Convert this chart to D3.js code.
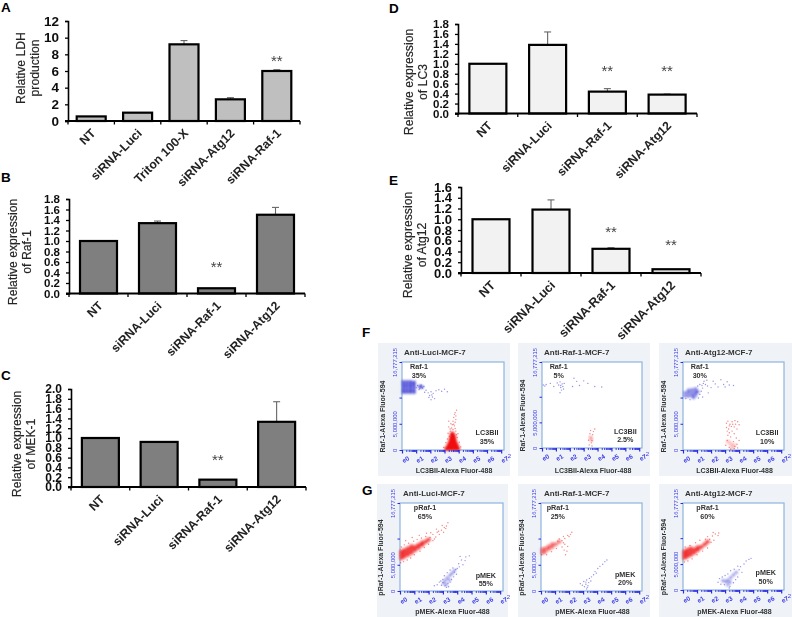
<!DOCTYPE html>
<html>
<head>
<meta charset="utf-8">
<script src="https://cdn.jsdelivr.net/npm/d3@7"></script>
<style>
body { margin: 0; background: #fff; }
text { font-family: "Liberation Sans", Arial, sans-serif; }
</style>
</head>
<body>
<div id="fig"></div>
<script>
// bar panels: categories and values
var catsA = ['NT', 'siRNA-Luci', 'Triton 100-X', 'siRNA-Atg12', 'siRNA-Raf-1'];
var catsRaf = ['NT', 'siRNA-Luci', 'siRNA-Raf-1', 'siRNA-Atg12'];
var valsA = [0.55, 1.0, 9.2, 2.6, 6.0];
var errA = [0, 0, 9.65, 2.8, 6.15];
var starsA = [null, null, null, null, 7.2];
var valsB = [1.0, 1.34, 0.1, 1.5];
var errB = [0, 1.38, 0, 1.64];
var starsB = [null, null, 0.5, null];
var valsC = [1.0, 0.92, 0.15, 1.33];
var errC = [0, 0, 0, 1.74];
var starsC = [null, null, 0.55, null];
var valsD = [1.0, 1.38, 0.44, 0.38];
var errD = [0, 1.64, 0.5, 0.39];
var starsD = [null, null, 0.85, 0.85];
var valsE = [1.0, 1.18, 0.45, 0.07];
var errE = [0, 1.36, 0.47, 0];
var starsE = [null, null, 0.77, 0.52];
var ticks12 = [0, 2, 4, 6, 8, 10, 12];
var ticks18 = [0, 0.2, 0.4, 0.6, 0.8, 1.0, 1.2, 1.4, 1.6, 1.8];
var ticks20 = [0, 0.2, 0.4, 0.6, 0.8, 1.0, 1.2, 1.4, 1.6, 1.8, 2.0];
var ticks16 = [0, 0.2, 0.4, 0.6, 0.8, 1.0, 1.2, 1.4, 1.6];

// flow panels: [log decade, millions], dense = thick patches, sparse = single events
var f1BlueDense = [[0.1,11],[0.35,11],[0.6,11],[0.85,11],[0.1,11.5],[0.35,11.5],[0.6,11.5],[0.85,11.5],[0.1,12],[0.35,12],[0.6,12],[0.85,12],[0.1,12.5],[0.35,12.5],[0.6,12.5],[0.85,12.5],[0.1,13],[0.35,13],[0.6,13],[0.85,12.9],[1.25,12.1],[1.4,12.0]];
var f1BlueSparse = [[1.1,12.3],[1.25,11.7],[1.35,12.4],[1.45,11.8],[1.55,12.1],[1.2,11.5],[1.7,11.4],[1.85,10.9],[1.95,10.4],[2.05,11.1],[2.15,10.1],[2.2,10.8],[2.3,9.8],[2.05,9.6],[2.4,11.3],[2.6,11.5],[2.8,11.2],[3.0,11.6],[3.2,11.1],[1.0,11.9],[1.6,11.0],[1.9,10.0],[2.1,10.5]];
var f1RedDense = [[3.15,0.3],[3.35,0.3],[3.55,0.3],[3.75,0.3],[3.95,0.3],[3.3,0.9],[3.5,0.9],[3.7,0.9],[3.85,0.9],[3.4,1.5],[3.55,1.5],[3.75,1.5],[3.45,2.1],[3.6,2.1],[3.7,2.1],[3.5,2.7],[3.65,2.7],[3.55,3.1]];
var f1RedSparse = [[3.1,1.4],[3.2,2.1],[3.25,3.2],[3.4,3.6],[3.5,4.2],[3.3,4.4],[3.6,3.9],[3.7,4.6],[3.45,5.0],[3.6,5.5],[3.75,5.3],[3.8,3.6],[3.9,2.4],[4.05,1.5],[3.65,6.2],[3.8,6.5],[3.75,7.1],[3.85,7.6],[3.55,4.8],[3.3,5.5],[2.95,0.5],[4.15,0.6],[3.95,3.1],[3.35,2.6],[3.85,2.9],[3.4,4.0],[3.75,4.1],[3.65,4.9],[3.8,5.8],[3.7,6.8]];
var f2BlueDense = [];
var f2BlueSparse = [[0.1,12.3],[0.2,12.1],[0.3,12.4],[1.1,12.7],[1.2,12.3],[1.3,12.9],[1.35,11.8],[1.45,12.5],[1.4,11.3],[1.5,12.0],[1.55,11.5],[1.35,12.2],[1.6,12.6],[1.3,10.8],[2.3,13.6],[2.5,13.0],[2.7,12.2],[3.0,13.1],[3.3,12.6],[3.8,12.0],[4.3,11.9],[2.2,12.0],[0.6,12.6],[0.85,12.0]];
var f2RedDense = [[3.5,2.1],[3.55,1.6]];
var f2RedSparse = [[3.35,1.5],[3.45,2.8],[3.6,1.4],[3.65,2.6],[3.5,3.4],[3.7,3.2],[3.8,3.7],[3.4,0.6],[3.6,0.4],[3.55,1.0]];
var f3BlueDense = [[0.15,10.3],[0.4,10.3],[0.65,10.4],[0.9,10.5],[0.15,10.9],[0.4,10.9],[0.65,10.9],[0.9,11],[1.05,11.1],[0.4,11.4],[0.65,11.5],[0.9,11.6],[0.75,10.0]];
var f3BlueSparse = [[1.2,10.6],[1.3,11.2],[1.4,10.1],[1.1,9.9],[0.5,9.6],[0.2,9.8],[1.35,12.3],[1.45,12.7],[1.6,12.5],[1.5,13.1],[1.7,13.3],[1.75,12.2],[1.4,11.8],[1.2,12.5],[2.0,11.9],[2.3,12.6],[2.5,12.0],[2.7,13.4],[2.9,12.5],[3.0,12.0],[3.15,13.0],[3.3,12.4],[3.6,12.3],[1.8,10.9],[1.05,12.2],[2.15,13.1]];
var f3RedDense = [[3.2,1.6],[3.4,1.2],[3.5,0.5],[3.65,0.9]];
var f3RedSparse = [[3.1,5.1],[3.2,5.5],[3.35,4.9],[3.5,5.4],[3.7,5.6],[3.9,5.4],[4.0,4.8],[3.1,4.3],[3.25,4.0],[3.45,4.5],[3.65,4.4],[3.85,4.0],[3.3,3.3],[3.5,3.6],[3.2,2.8],[3.4,2.5],[3.65,3.1],[3.8,2.3],[3.15,1.8],[3.6,1.6],[3.85,1.1],[3.7,0.7],[3.3,0.5],[3.9,0.4],[3.65,0.3],[3.4,0.2],[3.05,0.9],[4.0,1.8],[3.3,4.6],[3.55,4.9],[3.75,4.9],[3.15,3.6]];

var g1RedDense = [[0.1,6.3],[0.1,6.9],[0.1,7.5],[0.3,6.6],[0.3,7.2],[0.3,7.8],[0.55,6.9],[0.55,7.5],[0.55,8.1],[0.8,7.3],[0.8,7.9],[0.8,8.5],[1.05,7.8],[1.05,8.4],[1.3,8.3],[1.3,8.8],[1.55,8.8],[1.55,9.2],[1.8,9.4],[2.0,9.8]];
var g1RedSparse = [[0.05,5.4],[0.25,5.6],[0.5,5.9],[0.75,6.3],[0.1,8.4],[0.3,8.8],[0.6,9.1],[0.95,9.5],[1.2,9.8],[1.0,6.9],[1.4,7.6],[1.7,8.3],[2.0,8.9],[1.5,10.1],[1.8,10.4],[2.1,10.2],[2.3,9.6],[2.3,10.8],[2.5,10.3],[2.6,11.2],[2.75,10.8],[2.9,11.6],[3.05,11.2],[3.1,12.1],[3.25,12.4],[3.35,13.0],[2.95,12.5],[2.55,11.8],[2.15,11.1],[1.85,11.0],[1.35,10.6],[0.85,10.2],[0.4,9.6],[2.4,9.9],[2.7,11.4],[3.2,11.9]];
var g1BlueDense = [[3.05,1.5],[3.15,2.0],[3.25,1.2],[3.3,2.5],[3.45,2.1],[3.5,3.0],[3.65,3.4],[3.8,3.9]];
var g1BlueSparse = [[2.4,1.0],[2.6,1.2],[2.75,1.7],[2.9,1.1],[3.0,2.2],[3.15,1.0],[3.25,0.7],[3.1,2.9],[3.3,3.5],[3.5,1.7],[3.6,2.2],[3.75,2.7],[3.8,3.6],[3.9,4.1],[3.5,4.0],[3.7,4.4],[4.0,4.3],[4.1,5.2],[4.3,5.9],[4.6,6.5],[4.2,6.6],[4.85,6.7],[3.4,0.8],[3.95,3.2],[2.85,1.9],[3.0,1.6],[3.35,1.5],[4.15,4.6],[4.4,5.0],[4.55,5.8]];
var g2RedDense = [[0.1,7.3],[0.1,7.9],[0.3,7.5],[0.3,8.1],[0.55,8.0],[0.55,8.5],[0.8,8.4],[0.8,8.9],[1.05,8.9],[1.3,9.4]];
var g2RedSparse = [[0.05,6.9],[0.4,6.9],[0.75,7.5],[1.1,8.1],[1.3,9.9],[1.5,9.6],[1.7,10.0],[1.9,10.6],[2.1,10.8],[2.2,11.2],[1.5,8.4],[1.65,7.8],[1.75,6.9],[1.85,7.6],[1.9,8.5],[1.6,9.2],[2.0,10.4],[1.2,9.5],[1.7,8.9],[1.6,10.4]];
var g2BlueDense = [];
var g2BlueSparse = [[2.8,1.4],[2.95,1.1],[3.05,1.8],[3.1,0.8],[3.2,1.3],[3.25,2.1],[3.3,0.7],[3.35,1.0],[3.4,1.6],[3.45,2.4],[3.55,1.9],[3.6,2.7],[3.75,3.1],[3.85,3.7],[3.95,3.4],[4.05,4.3],[4.2,4.7],[4.4,5.1],[4.55,5.6],[4.7,5.9],[3.25,0.4],[3.2,1.7]];
var g3RedDense = [[0.1,6.2],[0.1,6.8],[0.1,7.4],[0.3,6.5],[0.3,7.1],[0.3,7.7],[0.55,6.8],[0.55,7.4],[0.55,8.0],[0.8,7.2],[0.8,7.8],[1.05,7.7],[1.05,8.2],[1.3,8.3],[1.55,8.8],[1.75,9.3]];
var g3RedSparse = [[0.1,5.4],[0.35,5.6],[0.65,6.0],[1.0,6.8],[1.4,7.5],[1.75,8.1],[1.9,9.8],[2.1,10.4],[2.0,9.2],[2.2,9.6],[2.3,10.8],[2.5,10.5],[2.55,11.0],[1.6,9.8],[1.2,9.6],[0.9,9.1],[2.15,11.1],[0.5,8.6],[0.15,8.3],[1.75,10.3]];
var g3BlueDense = [[3.05,1.6],[3.2,1.9],[3.4,2.4],[3.6,2.9],[3.2,1.0],[3.8,3.4],[2.85,1.8],[3.35,1.5]];
var g3BlueSparse = [[2.5,1.5],[2.6,2.2],[2.8,2.5],[2.7,1.1],[2.95,1.0],[3.0,2.8],[3.2,3.1],[3.35,0.7],[3.3,0.4],[3.6,1.4],[3.75,2.0],[3.4,3.7],[3.65,4.0],[3.9,2.5],[4.0,3.9],[4.1,4.5],[4.2,3.4],[4.35,5.0],[4.5,5.6],[4.7,5.9],[4.85,6.1],[3.9,4.6]];

var flowTicksX = [0, 1, 2, 3, 4, 5, 6, 7];
var flowTicksY = [0, 5, 10, 16.777];
var minorSteps = [2, 3, 4, 5, 6, 7, 8, 9];

var svg = d3.select('#fig').append('svg')
    .attr('width', 792)
    .attr('height', 617)
    .style('display', 'block');

var defs = svg.append('defs');
defs.append('filter').attr('id', 'soft').append('feGaussianBlur').attr('stdDeviation', 0.4);
defs.append('filter').attr('id', 'softer').append('feGaussianBlur').attr('stdDeviation', 0.8);

// panel letters
var letters = [['A', 1, 12], ['B', 1, 182], ['C', 1, 380], ['D', 389, 13], ['E', 389, 185], ['F', 362, 337], ['G', 362, 495]];
svg.selectAll('.letter').data(letters).enter().append('text')
    .attr('class', 'letter')
    .attr('x', d => d[1])
    .attr('y', d => d[2])
    .attr('font-size', 13.5)
    .attr('font-weight', 'bold')
    .text(d => d[0]);

function barPanel(o) {
    var x = d3.scaleBand().domain(o.cats).range([o.x0, o.x1]);
    var y = d3.scaleLinear().domain([0, o.max]).range([o.y0, o.y1]);
    var bw = o.barW;
    var g = svg.append('g').attr('filter', 'url(#soft)');

    var rows = o.cats.map((c, i) => ({c: c, v: o.vals[i], e: o.err[i], s: o.stars[i]}));

    // error bars go behind the bar
    rows.filter(d => d.e > 0).forEach(d => {
        var cx = x(d.c) + x.bandwidth() / 2;
        g.append('line').attr('x1', cx).attr('x2', cx).attr('y1', y(d.v)).attr('y2', y(d.e))
            .attr('stroke', '#666').attr('stroke-width', 1.1);
        g.append('line').attr('x1', cx - 3.5).attr('x2', cx + 3.5).attr('y1', y(d.e)).attr('y2', y(d.e))
            .attr('stroke', '#666').attr('stroke-width', 1.1);
    });

    g.selectAll('.bar').data(rows).enter().append('rect')
        .attr('class', 'bar')
        .attr('x', d => x(d.c) + (x.bandwidth() - bw) / 2)
        .attr('y', d => y(d.v))
        .attr('width', bw)
        .attr('height', d => y(0) - y(d.v))
        .attr('fill', o.fill)
        .attr('stroke', '#000')
        .attr('stroke-width', 2.2);

    g.selectAll('.star').data(rows.filter(d => d.s !== null)).enter().append('text')
        .attr('x', d => x(d.c) + x.bandwidth() / 2)
        .attr('y', d => y(d.s) + 5)
        .attr('text-anchor', 'middle')
        .attr('font-size', 15)
        .attr('fill', '#444')
        .text('**');

    var yAxis = d3.axisLeft(y).tickValues(o.ticks).tickSize(3).tickPadding(6)
        .tickFormat(o.max === 12 ? d3.format('d') : d3.format('.1f'));
    var ya = g.append('g').attr('transform', `translate(${o.x0},0)`).call(yAxis);
    ya.select('.domain').attr('stroke', '#000').attr('stroke-width', 1.6);
    ya.selectAll('line').attr('stroke', '#000').attr('stroke-width', 1.3);
    ya.selectAll('text').attr('font-size', o.tickSize).attr('font-weight', 'bold').attr('fill', '#111')
        .style('font-family', '"Liberation Sans"');

    // x axis has ticks between the categories
    g.append('line').attr('x1', o.x0 - 3).attr('x2', o.x1).attr('y1', o.y0).attr('y2', o.y0)
        .attr('stroke', '#000').attr('stroke-width', 2);
    d3.range(o.cats.length + 1).forEach(i => {
        var tx = o.x0 + i * x.step();
        g.append('line').attr('x1', tx).attr('x2', tx).attr('y1', o.y0).attr('y2', o.y0 + 3.5)
            .attr('stroke', '#000').attr('stroke-width', 1.3);
    });

    g.selectAll('.cat').data(o.cats).enter().append('text')
        .attr('transform', c => `translate(${x(c) + x.bandwidth() / 2 + 5},${o.y0 + 13}) rotate(-45)`)
        .attr('text-anchor', 'end')
        .attr('font-size', o.catSize)
        .attr('font-weight', 'bold')
        .attr('fill', '#222')
        .text(c => c);

    var ty = g.append('text')
        .attr('transform', `translate(${o.titleX},${o.titleY}) rotate(-90)`)
        .attr('text-anchor', 'middle')
        .attr('font-size', o.titleSize)
        .attr('stroke', '#333').attr('stroke-width', 0.2)
        .attr('fill', '#222');
    ty.append('tspan').attr('x', 0).attr('dy', 0).text(o.title[0]);
    ty.append('tspan').attr('x', 0).attr('dy', o.titleSize * 1.15).text(o.title[1]);
}

barPanel({cats: catsA, vals: valsA, err: errA, stars: starsA, max: 12, ticks: ticks12, fill: '#bfbfbf',
    x0: 68, x1: 300, y0: 121, y1: 21, barW: 29, tickSize: 13.5, catSize: 12.3, titleSize: 12.2,
    title: ['Relative LDH', 'production'], titleX: 25, titleY: 68});
barPanel({cats: catsRaf, vals: valsB, err: errB, stars: starsB, max: 1.8, ticks: ticks18, fill: '#7f7f7f',
    x0: 69, x1: 305, y0: 293.5, y1: 199, barW: 37, tickSize: 11.5, catSize: 12.2, titleSize: 12.2,
    title: ['Relative expression', 'of Raf-1'], titleX: 17, titleY: 252});
barPanel({cats: catsRaf, vals: valsC, err: errC, stars: starsC, max: 2.0, ticks: ticks20, fill: '#7f7f7f',
    x0: 71, x1: 306, y0: 487, y1: 389, barW: 37, tickSize: 12, catSize: 12.2, titleSize: 12.2,
    title: ['Relative expression', 'of MEK-1'], titleX: 21, titleY: 444});
barPanel({cats: catsRaf, vals: valsD, err: errD, stars: starsD, max: 1.8, ticks: ticks18, fill: '#f2f2f2',
    x0: 458, x1: 697, y0: 113.5, y1: 24, barW: 37, tickSize: 11.5, catSize: 12.2, titleSize: 12.2,
    title: ['Relative expression', 'of LC3'], titleX: 413, titleY: 82});
barPanel({cats: catsRaf, vals: valsE, err: errE, stars: starsE, max: 1.6, ticks: ticks16, fill: '#f2f2f2',
    x0: 461, x1: 701, y0: 273, y1: 187, barW: 37, tickSize: 13, catSize: 12.6, titleSize: 12.2,
    title: ['Relative expression', 'of Atg12'], titleX: 412, titleY: 245});

function flowPanel(o) {
    var g = svg.append('g');
    g.append('rect').attr('x', o.bx).attr('y', o.by).attr('width', o.bw).attr('height', o.bh).attr('fill', '#eff3f7');
    var x = d3.scaleLinear().domain([0, 7.2]).range([o.x0, o.x1]);
    var y = d3.scaleLinear().domain([0, 16.777]).range([o.y0, o.y1]);
    var soft = g.append('g').attr('filter', 'url(#soft)');
    soft.append('rect').attr('x', o.x0).attr('y', o.y1).attr('width', o.x1 - o.x0).attr('height', o.y0 - o.y1)
        .attr('fill', '#fff').attr('stroke', '#8db4dc').attr('stroke-width', 1.2);

    // dense patches first, events on top
    o.clouds.forEach(cl => {
        g.append('g').attr('filter', 'url(#softer)').selectAll('circle').data(cl.dense).enter().append('circle')
            .attr('cx', d => x(d[0])).attr('cy', d => y(d[1])).attr('r', cl.r)
            .attr('fill', cl.color).attr('fill-opacity', cl.op);
        g.append('g').attr('filter', 'url(#soft)').selectAll('circle').data(cl.sparse).enter().append('circle')
            .attr('cx', d => x(d[0])).attr('cy', d => y(d[1])).attr('r', 0.7)
            .attr('fill', cl.color).attr('fill-opacity', 0.5);
    });

    // bottom axis: decades and their minor ticks as a blue band
    var labels = g.append('g').attr('filter', 'url(#soft)');
    var minor = [];
    flowTicksX.forEach(t => minorSteps.forEach(m => { if (t + Math.log10(m) < 7.2) minor.push(t + Math.log10(m)); }));
    var ax = labels.append('g').attr('transform', `translate(0,${o.y0})`)
        .call(d3.axisBottom(x).tickValues(minor).tickSize(2).tickFormat(''));
    ax.select('.domain').remove();
    ax.selectAll('line').attr('stroke', '#2a2ae0').attr('stroke-width', 0.9);
    var ax2 = labels.append('g').attr('transform', `translate(0,${o.y0})`)
        .call(d3.axisBottom(x).tickValues(flowTicksX).tickSize(3.5).tickPadding(1)
            .tickFormat(d => 'e' + d));
    ax2.select('.domain').remove();
    ax2.selectAll('line').attr('stroke', '#2a2ae0').attr('stroke-width', 1.2);
    ax2.selectAll('text').attr('font-size', 6.5).attr('fill', '#3a3ae8').attr('font-weight', 'bold')
        .attr('transform', 'rotate(-30) translate(-2,3)').attr('text-anchor', 'middle');
    labels.append('text').attr('x', o.x1 + 2).attr('y', o.y0 + 8).attr('font-size', 6).attr('fill', '#3a3ae8').text('.2');

    var ay = labels.append('g').attr('transform', `translate(${o.x0},0)`)
        .call(d3.axisLeft(y).tickValues(flowTicksY).tickSize(2.5)
            .tickFormat(d => d === 0 ? '0' : d === 5 ? '5,000,000' : d > 16 ? '16,777,215' : ''));
    ay.select('.domain').remove();
    ay.selectAll('line').attr('stroke', '#2a2ae0');
    // labels sit just left of the axis, turned with it
    ay.selectAll('.tick text').attr('font-size', 5.8).attr('fill', '#3a3ae8')
        .attr('text-anchor', 'middle').attr('x', 0).attr('y', 0).attr('dy', 0)
        .attr('transform', 'translate(-5,0) rotate(-90)');

    labels.append('text').attr('x', o.bx + 26).attr('y', o.by + 12).attr('font-size', 8).attr('font-weight', 'bold')
        .attr('fill', '#333').text(o.title);
    labels.append('text').attr('x', o.x0 + (o.x1 - o.x0) / 2 + 1).attr('y', o.by + o.bh - 3.5).attr('text-anchor', 'middle')
        .attr('font-size', 7).attr('font-weight', 'bold').attr('fill', '#333').text(o.xlab);
    labels.append('text').attr('transform', `translate(${o.x0 - 17},${(o.y0 + o.y1) / 2 + 10.5}) rotate(-90)`).attr('text-anchor', 'middle')
        .attr('font-size', 7).attr('font-weight', 'bold').attr('fill', '#333').text(o.ylab);

    o.notes.forEach(n => {
        var t = labels.append('text').attr('text-anchor', 'middle').attr('font-size', 7.2)
            .attr('font-weight', 'bold').attr('fill', '#333');
        t.append('tspan').attr('x', x(n[0])).attr('y', y(n[1])).text(n[2]);
        t.append('tspan').attr('x', x(n[0])).attr('dy', 8.6).text(n[3]);
    });
}

var blue = '#2a2ad0', red = '#f01010';
function clouds(bd, bs, rd, rs, redOp, blueOp, blueR, redR) {
    return [
        {dense: bd, sparse: bs, color: blue, r: blueR, op: blueOp},
        {dense: rd, sparse: rs, color: red, r: redR, op: redOp}
    ];
}
var boxF = [[378, 343, 132, 133, 402, 504, 450, 362], [518, 343, 132, 133, 542, 642, 448, 362], [659, 343, 133, 133, 683, 784, 450, 362]];
var boxG = [[377, 484, 131, 133, 400, 503, 591, 503], [518, 484, 132, 133, 541, 642, 591, 503], [659, 484, 133, 133, 683, 784, 590, 503]];
function placed(b) { return {bx: b[0], by: b[1], bw: b[2], bh: b[3], x0: b[4], x1: b[5], y0: b[6], y1: b[7]}; }

flowPanel(Object.assign(placed(boxF[0]), {title: 'Anti-Luci-MCF-7', xlab: 'LC3BII-Alexa Fluor-488', ylab: 'Raf-1-Alexa Fluor-594',
    clouds: clouds(f1BlueDense, f1BlueSparse, f1RedDense, f1RedSparse, 1, 0.8, 1.8, 2.2),
    notes: [[1.2, 15.4, 'Raf-1', '35%'], [6.0, 2.8, 'LC3BII', '35%']]}));
flowPanel(Object.assign(placed(boxF[1]), {title: 'Anti-Raf-1-MCF-7', xlab: 'LC3BII-Alexa Fluor-488', ylab: 'Raf-1-Alexa Fluor-594',
    clouds: clouds(f2BlueDense, f2BlueSparse, f2RedDense, f2RedSparse, 0.3, 0.3, 1.8, 2),
    notes: [[1.2, 15.4, 'Raf-1', '5%'], [6.0, 2.8, 'LC3BII', '2.5%']]}));
flowPanel(Object.assign(placed(boxF[2]), {title: 'Anti-Atg12-MCF-7', xlab: 'LC3BII-Alexa Fluor-488', ylab: 'Raf-1-Alexa Fluor-594',
    clouds: clouds(f3BlueDense, f3BlueSparse, f3RedDense, f3RedSparse, 0.22, 0.6, 1.8, 2.2),
    notes: [[1.2, 15.4, 'Raf-1', '30%'], [6.0, 2.8, 'LC3BII', '10%']]}));
flowPanel(Object.assign(placed(boxG[0]), {title: 'Anti-Luci-MCF-7', xlab: 'pMEK-Alexa Fluor-488', ylab: 'pRaf-1-Alexa Fluor-594',
    clouds: clouds(g1BlueDense, g1BlueSparse, g1RedDense, g1RedSparse, 0.75, 0.5, 1.6, 2.2),
    notes: [[1.75, 15.4, 'pRaf-1', '65%'], [6.0, 2.5, 'pMEK', '55%']]}));
flowPanel(Object.assign(placed(boxG[1]), {title: 'Anti-Raf-1-MCF-7', xlab: 'pMEK-Alexa Fluor-488', ylab: 'pRaf-1-Alexa Fluor-594',
    clouds: clouds(g2BlueDense, g2BlueSparse, g2RedDense, g2RedSparse, 0.6, 0.3, 1.6, 2),
    notes: [[1.2, 15.4, 'pRaf-1', '25%'], [6.0, 2.7, 'pMEK', '20%']]}));
flowPanel(Object.assign(placed(boxG[2]), {title: 'Anti-Atg12-MCF-7', xlab: 'pMEK-Alexa Fluor-488', ylab: 'pRaf-1-Alexa Fluor-594',
    clouds: clouds(g3BlueDense, g3BlueSparse, g3RedDense, g3RedSparse, 0.75, 0.5, 1.6, 2.2),
    notes: [[1.75, 15.4, 'pRaf-1', '60%'], [5.9, 2.8, 'pMEK', '50%']]}));
</script>
</body>
</html>
